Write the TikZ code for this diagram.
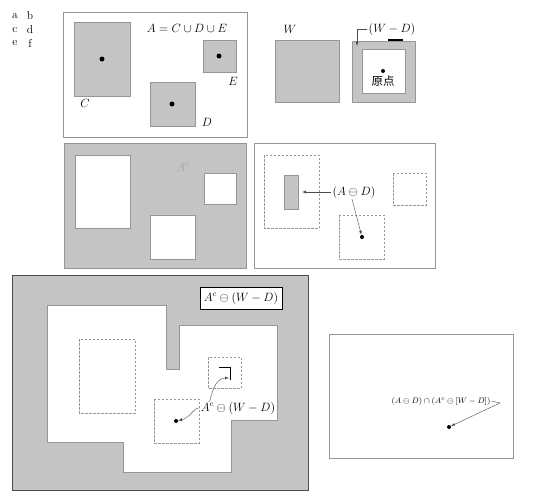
\documentclass[tikz,border=0pt]{standalone}
\usepackage{amsmath, amssymb}
\usepackage{fontspec}
\newfontfamily\cjk{Noto Sans CJK SC}
\usepackage{xcolor}
\usetikzlibrary{calc, positioning}
\definecolor{scangray}{RGB}{196,196,196}
\definecolor{edgegray}{RGB}{150,150,150}

\begin{document}
\begin{tikzpicture}[>=latex, x=1pt, y=-1pt,
    frame/.style={draw=edgegray, thin},
    grayset/.style={fill=scangray, draw=edgegray, thin},
    hole/.style={fill=white, draw=edgegray, thin},
    dashbox/.style={draw=edgegray, thin, dash pattern=on 2.5pt off 1.5pt},
    dot/.style={circle, fill=black, inner sep=0pt, minimum size=4pt},
    lbl/.style={font=\fontsize{11.5}{13}\selectfont, inner sep=1pt},
    lead/.style={->, thin, black!70}]
    \useasboundingbox (0,0) rectangle (538,498);

    % 1. Nhãn các hình con
    \node[lbl] (la) at (15,16) {a};  \node[lbl] (lb) at (30,16) {b};
    \node[lbl] (lc) at (15,30) {c};  \node[lbl] (ld) at (30,30) {d};
    \node[lbl] (le) at (15,43) {e};  \node[lbl] (lf) at (30,43) {f};

    % 2. Hình (a): tập A = C u D u E
    \draw[frame] (63,12) rectangle (247,137);
    \draw[grayset] (74,22) rectangle (130,96);
    \draw[grayset] (203,40) rectangle (236,72);
    \draw[grayset] (150,82) rectangle (195,126);
    \node[dot, minimum size=5pt] (dc) at (102,59) {};
    \node[dot, minimum size=5pt] (de) at (219,56) {};
    \node[dot, minimum size=5pt] (dd) at (172,104) {};
    \node[lbl] (nc) at (85,103) {$C$};
    \node[lbl] (ne) at (233,81) {$E$};
    \node[lbl] (nd) at (207,122) {$D$};
    \node[lbl] (na) at (187,28) {$A = C \cup D \cup E$};

    % 3. Hình (b): cửa sổ W và W - D
    \draw[grayset] (275,40) rectangle (339,102);
    \node[lbl] (nw) at (290,29) {$W$};
    \draw[grayset] (352,41) rectangle (415,102);
    \draw[hole] (362,49) rectangle (405,93);
    \draw[very thick] (388,40) -- (403,40);
    \node[dot] (origin) at (383,71) {};
    \node[lbl, below=1pt of origin] (norigin) {\cjk 原点};
    \node[lbl] (wd) at (392,29) {$(W - D)$};
    \coordinate (wdtip) at (357,46);
    \draw[lead] (wd.west) -| (wdtip);

    % 4. Hình (c): phần bù A^c
    \draw[grayset] (64,143) rectangle (246,268);
    \draw[hole] (75,155) rectangle (130,228);
    \draw[hole] (204,173) rectangle (236,204);
    \draw[hole] (150,215) rectangle (195,259);
    \node[lbl, text=gray!70] (nac) at (183,167) {$A^c$};

    % 5. Hình (d): A co bởi D
    \draw[frame] (254,143) rectangle (435,268);
    \draw[dashbox] (264,155) rectangle (319,228);
    \draw[dashbox] (393,173) rectangle (426,205);
    \draw[dashbox] (339,215) rectangle (384,259);
    \draw[grayset] (284,175) rectangle (298,209);
    \coordinate (erodetip) at (302,192);
    \node[dot] (dero) at (362,237) {};
    \node[lbl] (nero) at (354,192) {$(A \ominus D)$};
    \draw[lead] (nero.west) -- (erodetip);
    \draw[lead] ($(nero.south)+(-2,0)$) -- (dero);

    % 6. Hình (e): A^c co bởi (W - D)
    \draw[grayset, draw=black!70] (12,275) rectangle (308,490);
    \draw[hole] (47,305) -- (166,305) -- (166,369) -- (179,369) -- (179,325)
        -- (277,325) -- (277,420) -- (231,420) -- (231,472) -- (123,472)
        -- (123,442) -- (47,442) -- cycle;
    \draw[dashbox] (79,339) rectangle (135,413);
    \draw[dashbox] (208,357) rectangle (241,388);
    \draw[dashbox] (154,399) rectangle (199,443);
    \draw[thin] (219,367) -- (230,367) -- (230,380);
    \node[dot] (dcomp) at (176,421) {};
    \node[lbl, draw=black, thick, fill=white, minimum width=82pt, minimum height=22pt]
        (boxlbl) at (241,298) {$A^c \ominus (W - D)$};
    \node[lbl] (ncomp) at (238,408) {$A^c \ominus (W - D)$};
    \coordinate (cornertip) at (229,378);
    \draw[lead] (ncomp.west) .. controls (194,407) and (190,418) .. (dcomp);
    \draw[lead] ($(ncomp.north west)+(10,1)$) .. controls (213,386) and (218,378) .. (cornertip);

    % 7. Hình (f): giao của hai kết quả
    \draw[frame] (329,334) rectangle (513,458);
    \node[dot] (dhit) at (449,427) {};
    \node[lbl, font=\footnotesize] (ninter) at (441,401) {$(A \ominus D) \cap (A^c \ominus [W - D])$};
    \coordinate (bend) at (500,403);
    \draw[lead] (ninter.east) -- (bend) -- (dhit);
\end{tikzpicture}
\end{document}
